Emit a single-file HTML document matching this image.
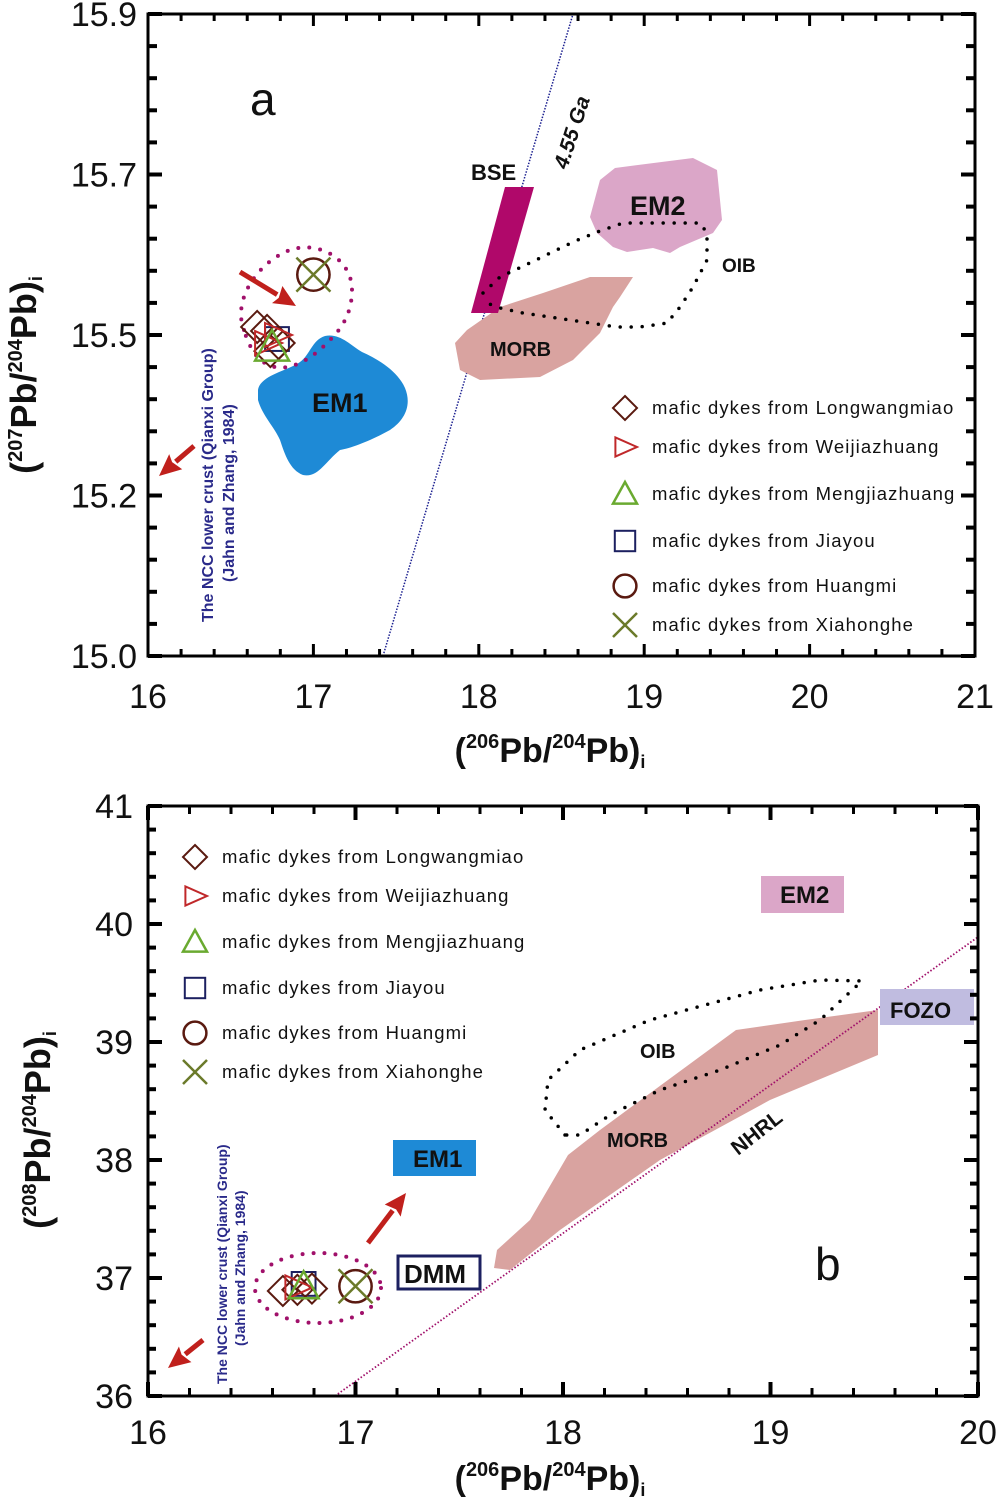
<!DOCTYPE html>
<html><head><meta charset="utf-8"><style>
body{margin:0;background:#fff;}
svg{display:block;font-family:"Liberation Sans",Arial,sans-serif;}
</style></head><body>
<svg id="s" width="1000" height="1499" viewBox="0 0 1000 1499" xmlns="http://www.w3.org/2000/svg">
<g id="ga"></g>
<g id="gb"></g>
</svg>
<script>
// ---------- data: panel a ----------
const aXTicks = [16,17,18,19,20,21];
const aYTickLabels = ["15.0","15.2","15.5","15.7","15.9"];
const aDiamondX = [16.66,16.72,16.79,16.74];
const aDiamondY = [15.51,15.505,15.49,15.48];
const aTriX = [16.72,16.78];
const aTriY = [15.49,15.50];
const aTriUpX = [16.75];
const aTriUpY = [15.485];
const aSquareX = [16.78];
const aSquareY = [15.495];
const aCircleX = [17.0];
const aCircleY = [15.575];
// ---------- data: panel b ----------
const bXTicks = [16,17,18,19,20];
const bYTicks = [36,37,38,39,40,41];
const bDiamondX = [16.65,16.72,16.79];
const bDiamondY = [36.89,36.9,36.91];
const bTriX = [16.72];
const bTriY = [36.92];
const bTriUpX = [16.75];
const bTriUpY = [36.93];
const bSquareX = [16.75];
const bSquareY = [36.95];
const bCircleX = [17.0];
const bCircleY = [36.93];
const legendNames = ["Longwangmiao","Weijiazhuang","Mengjiazhuang","Jiayou","Huangmi","Xiahonghe"];

const NS="http://www.w3.org/2000/svg";
function mk(parent,tag,attrs,text){const e=document.createElementNS(NS,tag);for(const k in attrs)e.setAttribute(k,attrs[k]);if(text!==undefined)e.textContent=text;parent.appendChild(e);return e;}

const aL=148,aR=975,aT=14,aB=656;
const aX=v=>aL+(v-16)*(aR-aL)/5;
const aY=v=>335-(v-15.5)*805;
const bL=148,bR=978,bT=806,bB=1396;
const bX=v=>bL+(v-16)*(bR-bL)/4;
const bY=v=>bB-(v-36)*(bB-bT)/5;

function marker(g,type,x,y,s){
  let e;
  if(type==='diamond'){e=mk(g,'polygon',{points:`${x},${y-s} ${x+s},${y} ${x},${y+s} ${x-s},${y}`,fill:'none',stroke:'#5a1a10','stroke-width':2});}
  else if(type==='tri'){e=mk(g,'polygon',{points:`${x-s*0.8},${y-s*0.8} ${x+s},${y} ${x-s*0.8},${y+s*0.8}`,fill:'none',stroke:'#c0282a','stroke-width':2});}
  else if(type==='triup'){e=mk(g,'polygon',{points:`${x},${y-s} ${x+s},${y+s*0.8} ${x-s},${y+s*0.8}`,fill:'none',stroke:'#6aaa30','stroke-width':2.5});}
  else if(type==='square'){e=mk(g,'rect',{x:x-s*0.85,y:y-s*0.85,width:s*1.7,height:s*1.7,fill:'none',stroke:'#1c2060','stroke-width':2});}
  else if(type==='circle'){e=mk(g,'circle',{cx:x,cy:y,r:s*0.95,fill:'none',stroke:'#5a1a10','stroke-width':2.5});}
  else if(type==='x'){e=mk(g,'path',{d:`M${x-s},${y-s}L${x+s},${y+s}M${x+s},${y-s}L${x-s},${y+s}`,stroke:'#6b7a2a','stroke-width':2.5,fill:'none'});}
  return e;
}
function series(g,type,xs,ys,sx,sy,s,name){
  for(let i=0;i<xs.length;i++){
    const e=marker(g,type,sx(xs[i]),sy(ys[i]),s);
    
    
  }
}
function frame(g,L,R,T,B,name){
  const e=mk(g,'rect',{x:L,y:T,width:R-L,height:B-T,fill:'none',stroke:'#000','stroke-width':3});
  
  
}
function legend(g,x0,ys,tx,fs){
  const types=['diamond','tri','triup','square','circle','x'];
  for(let i=0;i<6;i++){
    const m=marker(g,types[i],x0,ys[i],12);
    
    
    const t=mk(g,'text',{x:tx,y:ys[i]+6,'font-size':fs,'letter-spacing':'1.1',fill:'#111'},'mafic dykes from '+legendNames[i]);
    
    
  }
}
function dotted(g,pts,close,name){
  const e=mk(g,'path',{d:'M'+pts.join('L')+(close?'Z':''),fill:'none',stroke:'#000','stroke-width':3.5,'stroke-dasharray':'0 11','stroke-linecap':'round'});
  
  
}
function label(g,x,y,txt,fs,name,extra){
  const a=Object.assign({x:x,y:y,'font-size':fs,'font-weight':'bold',fill:'#111'},extra||{});
  const t=mk(g,'text',a,txt);
  
  
  return t;
}
function arrow(g,x1,y1,x2,y2,name){
  const ang=Math.atan2(y2-y1,x2-x1),L=22,W=10;
  const bx=x2-L*Math.cos(ang),by=y2-L*Math.sin(ang);
  const px=-Math.sin(ang)*W,py=Math.cos(ang)*W;
  const gr=mk(g,'g',{});
  
  mk(gr,'line',{x1:x1,y1:y1,x2:bx,y2:by,stroke:'#c0201c','stroke-width':5});
  mk(gr,'polygon',{points:`${x2},${y2} ${bx+px},${by+py} ${bx+px*0.2+3*Math.cos(ang)},${by+py*0.2+3*Math.sin(ang)} ${bx-px},${by-py}`,fill:'#c0201c'});
}
const titleHTML=(a)=>'(<tspan font-size="20" dy="-14">'+a+'</tspan><tspan dy="14">Pb/</tspan><tspan font-size="20" dy="-14">204</tspan><tspan dy="14">Pb)</tspan><tspan font-size="18" dy="6">i</tspan>';

// ================= PANEL A =================
const ga=document.getElementById('ga');
let e=mk(ga,'line',{x1:383,y1:656,x2:573,y2:14,stroke:'#1c2090','stroke-width':1.5,'stroke-dasharray':'1.5 1.5'});

label(ga,0,0,'4.55 Ga',21,'geochron-label',{transform:'translate(567,170) rotate(-72)','font-style':'italic'});
e=mk(ga,'path',{d:'M258,390 C260,375 290,370 300,362 C310,355 312,340 325,336 C340,333 350,345 362,352 C380,360 398,372 405,388 C412,405 405,420 390,430 C372,440 352,448 340,450 C325,462 318,478 303,475 C290,470 285,455 280,440 C275,428 262,415 258,400 Z',fill:'#1e8ad6'});

label(ga,312,412,'EM1',27,'em1-label');
e=mk(ga,'polygon',{points:'455,343 467,330 500,307 543,293 590,277 633,277 620,297 613,307 600,333 573,360 540,377 480,380 460,370',fill:'#d9a3a0'});

label(ga,490,356,'MORB',20,'morb-label');
e=mk(ga,'polygon',{points:'590,217 600,180 615,168 693,158 717,170 722,220 713,233 680,247 670,253 653,248 627,252 613,247 597,233',fill:'#dba6c8'});

label(ga,630,215,'EM2',27,'em2-label');
e=mk(ga,'polygon',{points:'471,313 498,313 534,187 505,187',fill:'#b0086a'});

label(ga,471,180,'BSE',22,'bse-label');
dotted(ga,['483,293','500,277','517,269','540,258','573,242','597,232','623,223','700,223','707,233','707,260','693,287','680,307','667,323','640,327','617,327','590,323','557,318','523,313','500,308','487,303'],false,'oib-field');
label(ga,722,272,'OIB',19,'oib-label');
e=mk(ga,'path',{d:'M244,330 C232,300 258,262 290,250 C320,240 352,260 352,290 C352,315 340,330 330,340 C300,372 260,385 244,330 Z',fill:'none',stroke:'#a0106a','stroke-width':4,'stroke-dasharray':'0 11','stroke-linecap':'round'});

arrow(ga,240,272,296,306,'arrow-to-samples');
arrow(ga,194,446,159,476,'arrow-to-lower-crust');
series(ga,'square',aSquareX,aSquareY,aX,aY,14,'point-jiayou');
series(ga,'diamond',aDiamondX,aDiamondY,aX,aY,16,'point-longwangmiao');
series(ga,'tri',aTriX,aTriY,aX,aY,15,'point-weijiazhuang');
series(ga,'triup',aTriUpX,aTriUpY,aX,aY,17,'point-mengjiazhuang');
series(ga,'circle',aCircleX,aCircleY,aX,aY,17,'point-huangmi');
series(ga,'x',aCircleX,aCircleY,aX,aY,17,'point-xiahonghe');
label(ga,0,0,'The NCC lower crust (Qianxi Group)',16,'lower-crust-note',{transform:'translate(213,622) rotate(-90)',fill:'#2a2a8a'});
label(ga,0,0,'(Jahn and Zhang, 1984)',16,'lower-crust-ref',{transform:'translate(234,582) rotate(-90)',fill:'#2a2a8a'});
e=mk(ga,'text',{x:250,y:115,'font-size':46,fill:'#111'},'a');

legend(ga,625,[408,447,494,541,586,625],652,18.5);
frame(ga,aL,aR,aT,aB,'panel-a-frame');
aXTicks.forEach((v,i)=>{
  const x=aX(v);
  mk(ga,'line',{x1:x,y1:aB,x2:x,y2:aB-12,stroke:'#000','stroke-width':3});
  mk(ga,'line',{x1:x,y1:aT,x2:x,y2:aT+12,stroke:'#000','stroke-width':3});
  if(i<aXTicks.length-1)for(let k=1;k<5;k++){const xm=aX(v+k*0.2);
    mk(ga,'line',{x1:xm,y1:aB,x2:xm,y2:aB-7,stroke:'#000','stroke-width':3});
    mk(ga,'line',{x1:xm,y1:aT,x2:xm,y2:aT+7,stroke:'#000','stroke-width':3});}
  const t=mk(ga,'text',{x:x,y:708,'font-size':34,'text-anchor':'middle',fill:'#111'},String(v));
  
});
aYTickLabels.forEach((lab,i)=>{
  const y=aB-i*(aB-aT)/4;
  mk(ga,'line',{x1:aL,y1:y,x2:aL+14,y2:y,stroke:'#000','stroke-width':4});
  mk(ga,'line',{x1:aR,y1:y,x2:aR-14,y2:y,stroke:'#000','stroke-width':4});
  if(i<4)for(let k=1;k<5;k++){const ym=y-k*(aB-aT)/20;
    mk(ga,'line',{x1:aL,y1:ym,x2:aL+9,y2:ym,stroke:'#000','stroke-width':4});
    mk(ga,'line',{x1:aR,y1:ym,x2:aR-9,y2:ym,stroke:'#000','stroke-width':4});}
  const t=mk(ga,'text',{x:137,y:y+12,'font-size':34,'text-anchor':'end',fill:'#111'},lab);
  
});
e=mk(ga,'text',{x:550,y:762,'font-size':34,'font-weight':'bold','text-anchor':'middle',fill:'#111'});
e.innerHTML=titleHTML('206');

e=mk(ga,'text',{'font-size':36,'font-weight':'bold','text-anchor':'middle',fill:'#111',transform:'translate(36,375) rotate(-90)'});
e.innerHTML=titleHTML('207');


// ================= PANEL B =================
const gb=document.getElementById('gb');
e=mk(gb,'polygon',{points:'494,1268 497,1250 530,1220 568,1155 600,1130 736,1030 805,1020 878,1010 878,1055 770,1100 660,1160 560,1230 510,1270',fill:'#d9a3a0'});

label(gb,607,1147,'MORB',20,'morb-label-b');
e=mk(gb,'line',{x1:335,y1:1396,x2:978,y2:937,stroke:'#a0106a','stroke-width':1.8,'stroke-dasharray':'1.5 2'});

label(gb,0,0,'NHRL',21,'nhrl-label',{transform:'translate(738,1156) rotate(-38)'});
dotted(gb,['565,1135','545,1110','548,1080','580,1050','650,1020','760,990','820,980','862,981','850,992','820,1020','780,1045','720,1070','660,1090','610,1115','580,1135'],true,'oib-field-b');
label(gb,640,1058,'OIB',20,'oib-label-b');
e=mk(gb,'rect',{x:761,y:876,width:83,height:37,fill:'#dba6c8'});
label(gb,780,903,'EM2',24,'em2-label-b');
e=mk(gb,'rect',{x:880,y:989,width:94,height:36,fill:'#c0bce0'});
label(gb,890,1018,'FOZO',22,'fozo-label');
e=mk(gb,'rect',{x:393,y:1140,width:83,height:36,fill:'#1e8ad6'});
label(gb,413,1167,'EM1',24,'em1-label-b');
e=mk(gb,'rect',{x:398,y:1256,width:82,height:33,fill:'#fff',stroke:'#1c2060','stroke-width':3});
label(gb,404,1283,'DMM',26,'dmm-label');
e=mk(gb,'ellipse',{cx:318,cy:1288,rx:63,ry:35,fill:'none',stroke:'#a0106a','stroke-width':4,'stroke-dasharray':'0 11','stroke-linecap':'round'});

arrow(gb,368,1243,406,1193,'arrow-to-em1');
arrow(gb,203,1340,168,1368,'arrow-to-lower-crust-b');
series(gb,'square',bSquareX,bSquareY,bX,bY,14,'point-jiayou-b');
series(gb,'diamond',bDiamondX,bDiamondY,bX,bY,15,'point-longwangmiao-b');
series(gb,'tri',bTriX,bTriY,bX,bY,15,'point-weijiazhuang-b');
series(gb,'triup',bTriUpX,bTriUpY,bX,bY,15,'point-mengjiazhuang-b');
series(gb,'circle',bCircleX,bCircleY,bX,bY,17,'point-huangmi-b');
series(gb,'x',bCircleX,bCircleY,bX,bY,17,'point-xiahonghe-b');
label(gb,0,0,'The NCC lower crust (Qianxi Group)',14,'lower-crust-note-b',{transform:'translate(227,1384) rotate(-90)',fill:'#2a2a8a'});
label(gb,0,0,'(Jahn and Zhang, 1984)',14,'lower-crust-ref-b',{transform:'translate(245,1346) rotate(-90)',fill:'#2a2a8a'});
e=mk(gb,'text',{x:815,y:1280,'font-size':46,fill:'#111'},'b');

legend(gb,195,[857,896,942,988,1033,1072],222,18.5);
frame(gb,bL,bR,bT,bB,'panel-b-frame');
bXTicks.forEach((v,i)=>{
  const x=bX(v);
  mk(gb,'line',{x1:x,y1:bB,x2:x,y2:bB-14,stroke:'#000','stroke-width':4});
  mk(gb,'line',{x1:x,y1:bT,x2:x,y2:bT+14,stroke:'#000','stroke-width':4});
  if(i<bXTicks.length-1)for(let k=1;k<5;k++){const xm=bX(v+k*0.2);
    mk(gb,'line',{x1:xm,y1:bB,x2:xm,y2:bB-8,stroke:'#000','stroke-width':3});
    mk(gb,'line',{x1:xm,y1:bT,x2:xm,y2:bT+8,stroke:'#000','stroke-width':3});}
  const t=mk(gb,'text',{x:x,y:1444,'font-size':34,'text-anchor':'middle',fill:'#111'},String(v));
  
});
bYTicks.forEach((v,i)=>{
  const y=bY(v);
  mk(gb,'line',{x1:bL,y1:y,x2:bL+14,y2:y,stroke:'#000','stroke-width':4});
  mk(gb,'line',{x1:bR,y1:y,x2:bR-14,y2:y,stroke:'#000','stroke-width':4});
  if(i<bYTicks.length-1)for(let k=1;k<5;k++){const ym=bY(v+k*0.2);
    mk(gb,'line',{x1:bL,y1:ym,x2:bL+8,y2:ym,stroke:'#000','stroke-width':4});
    mk(gb,'line',{x1:bR,y1:ym,x2:bR-8,y2:ym,stroke:'#000','stroke-width':4});}
  const t=mk(gb,'text',{x:133,y:y+12,'font-size':34,'text-anchor':'end',fill:'#111'},String(v));
  
});
e=mk(gb,'text',{x:550,y:1490,'font-size':34,'font-weight':'bold','text-anchor':'middle',fill:'#111'});
e.innerHTML=titleHTML('206');

e=mk(gb,'text',{'font-size':36,'font-weight':'bold','text-anchor':'middle',fill:'#111',transform:'translate(50,1130) rotate(-90)'});
e.innerHTML=titleHTML('208');

</script>
</body></html>
